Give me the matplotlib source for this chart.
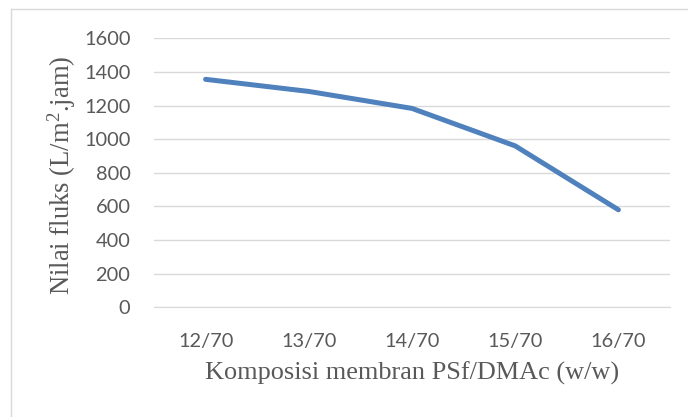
import matplotlib.pyplot as plt
from matplotlib.lines import Line2D

categories = ["12/70", "13/70", "14/70", "15/70", "16/70"]
flux = [1356, 1284, 1183, 960, 580]
y_ticks = [0, 200, 400, 600, 800, 1000, 1200, 1400, 1600]

plt.rcParams["mathtext.fontset"] = "custom"
plt.rcParams["mathtext.rm"] = "Liberation Serif"
plt.rcParams["mathtext.it"] = "Liberation Serif:italic"

W, H = 688, 417
fig = plt.figure(figsize=(W / 100, H / 100), dpi=100)
ax = fig.add_axes([154 / W, 1 - 307.3 / H, (670 - 154) / W, (307.3 - 38.3) / H])

x = list(range(len(categories)))
ax.plot(x, flux, color="#4F81BD", linewidth=3.6, solid_capstyle="round",
        solid_joinstyle="round", zorder=3)

ax.set_xlim(-0.5, len(categories) - 0.5)
ax.set_ylim(0, 1600)
ax.set_yticks(y_ticks)
ax.set_xticks(x)
ax.set_xticklabels(categories)
ax.grid(axis="y", color="#D9D9D9", linewidth=1.0)
ax.set_axisbelow(True)
for side in ["top", "right", "left"]:
    ax.spines[side].set_visible(False)
ax.spines["bottom"].set_color("#D9D9D9")
ax.tick_params(length=0, labelcolor="#595959", labelsize=14.4)
ax.tick_params(axis="y", pad=17)
ax.tick_params(axis="x", pad=18.5)
for lbl in ax.get_xticklabels() + ax.get_yticklabels():
    lbl.set_family("Lato")

ax.set_xlabel("Komposisi membran PSf/DMAc (w/w)", family="Liberation Serif",
              fontsize=18.9, color="#595959", labelpad=8)
ax.set_ylabel(r"Nilai fluks (L/m$^{2}$.jam)", family="Liberation Serif",
              fontsize=19.2, color="#595959", labelpad=4)
ax.yaxis.label.set_y((307.3 - 175) / (307.3 - 38.3))

# chart-area border (only left and top edges fall inside the image)
fig.add_artist(Line2D([11 / W, 11 / W], [0, 1 - 9 / H], transform=fig.transFigure,
                      color="#D9D9D9", linewidth=1.0))
fig.add_artist(Line2D([11 / W, 1], [1 - 9 / H, 1 - 9 / H], transform=fig.transFigure,
                      color="#D9D9D9", linewidth=1.0))

fig.savefig("out.png", dpi=100)
